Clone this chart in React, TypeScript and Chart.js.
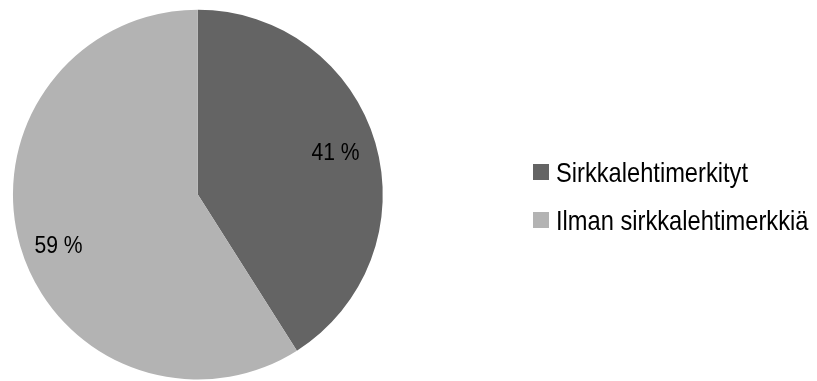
import React, { useEffect, useRef } from "react";
import { Chart, registerables } from "chart.js";

Chart.register(...registerables);

const categories = ["Sirkkalehtimerkityt", "Ilman sirkkalehtimerkkiä"];
const values = [41, 59];
const valueLabels = ["41 %", "59 %"];
const colors = ["#646464", "#b3b3b3"];

const drawScaledText = (ctx: CanvasRenderingContext2D, text: string, x: number, y: number, sx: number, align: "left" | "center") => {
  ctx.save();
  ctx.translate(x, y);
  ctx.scale(sx, 1);
  ctx.textAlign = align;
  ctx.fillText(text, 0, 0);
  ctx.restore();
};

const labelPlugin = {
  id: "sliceLabels",
  afterDatasetsDraw(chart: any, _args: any, opts: any) {
    const ctx = chart.ctx as CanvasRenderingContext2D;
    const meta = chart.getDatasetMeta(0);
    ctx.save();
    ctx.fillStyle = "#000";
    ctx.font = `${opts.fontSize}px "Liberation Sans", Arial, sans-serif`;
    ctx.textBaseline = "middle";
    meta.data.forEach((arc: any, i: number) => {
      const p = arc.getProps(["x", "y", "startAngle", "endAngle", "outerRadius"], true);
      const mid = (p.startAngle + p.endAngle) / 2;
      const r = p.outerRadius * opts.radiusFactor[i];
      const x = p.x + Math.cos(mid) * r + opts.dx[i];
      const y = p.y + Math.sin(mid) * r + opts.dy[i];
      drawScaledText(ctx, valueLabels[i], x, y, opts.scaleX, "center");
    });
    ctx.restore();
  },
};

const legendPlugin = {
  id: "customLegend",
  afterDraw(chart: any, _args: any, opts: any) {
    const ctx = chart.ctx as CanvasRenderingContext2D;
    ctx.save();
    ctx.font = `${opts.fontSize}px "Liberation Sans", Arial, sans-serif`;
    ctx.textBaseline = "alphabetic";
    categories.forEach((name, i) => {
      const base = opts.y + i * opts.lineGap;
      ctx.fillStyle = colors[i];
      ctx.fillRect(opts.x, base - opts.box - 2, opts.box, opts.box);
      ctx.fillStyle = "#000";
      drawScaledText(ctx, name, opts.x + opts.box + 7, base, opts.scaleX, "left");
    });
    ctx.restore();
  },
};

export default function App() {
  const ref = useRef<HTMLCanvasElement>(null);
  useEffect(() => {
    document.body.style.margin = "0";
    const chart = new Chart(ref.current!, {
      type: "pie",
      data: {
        labels: categories,
        datasets: [
          {
            data: values,
            backgroundColor: colors,
            borderWidth: 0,
          },
        ],
      },
      options: {
        animation: false,
        responsive: false,
        layout: { padding: { left: 12.7, top: 9.7, right: 434, bottom: 1.5 } },
        plugins: {
          legend: { display: false },
          tooltip: { enabled: false },
          sliceLabels: { fontSize: 24, scaleX: 0.88, radiusFactor: [0.77, 0.79], dx: [1, 1], dy: [-2, 11] },
          customLegend: { x: 533, y: 182, lineGap: 48, box: 16, fontSize: 28, scaleX: 0.845 },
        } as any,
      },
      plugins: [labelPlugin, legendPlugin],
    });
    return () => chart.destroy();
  }, []);
  return (
    <div style={{ position: "absolute", left: 0, top: 0, width: 817, height: 381 }}>
      <canvas ref={ref} width={817} height={381} style={{ width: 817, height: 381, display: "block" }} />
    </div>
  );
}
